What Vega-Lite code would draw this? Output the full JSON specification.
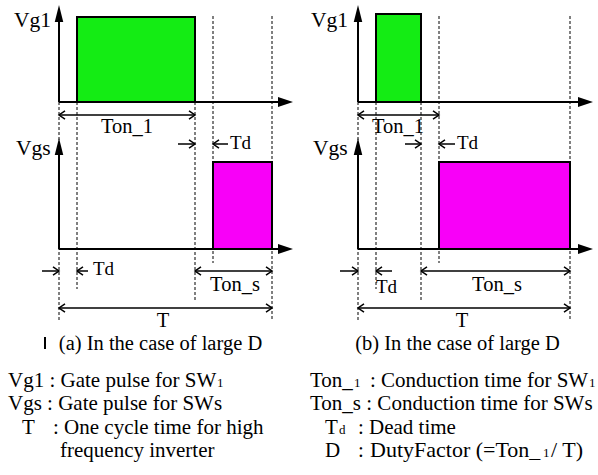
{
  "$schema": "https://vega.github.io/schema/vega-lite/v6.json",
  "width": 598,
  "height": 475,
  "autosize": {"type": "fit", "contains": "padding"},
  "padding": 0,
  "background": "white",
  "config": {"view": {"stroke": null}, "font": "Liberation Serif"},
  "datasets": {
    "dashed": [
      {"x": 59, "y": 102, "y2": 320}, {"x": 77, "y": 102, "y2": 289}, {"x": 195, "y": 102, "y2": 300},
      {"x": 213, "y": 16, "y2": 263}, {"x": 272, "y": 16, "y2": 320},
      {"x": 358, "y": 102, "y2": 320}, {"x": 376, "y": 102, "y2": 289}, {"x": 421, "y": 102, "y2": 300},
      {"x": 439, "y": 16, "y2": 263}, {"x": 570, "y": 16, "y2": 320}
    ],
    "pulses": [
      {"panel": "a", "sw": "SW1", "x": 77, "x2": 195, "y": 17, "y2": 102},
      {"panel": "a", "sw": "SWs", "x": 213, "x2": 272, "y": 162, "y2": 249},
      {"panel": "b", "sw": "SW1", "x": 376, "x2": 421, "y": 14, "y2": 102},
      {"panel": "b", "sw": "SWs", "x": 439, "x2": 570, "y": 162, "y2": 249}
    ],
    "axes": [
      {"x": 59, "x2": 59, "y": 14, "y2": 102}, {"x": 59, "x2": 280, "y": 102, "y2": 102},
      {"x": 59, "x2": 59, "y": 147, "y2": 249}, {"x": 59, "x2": 280, "y": 249, "y2": 249},
      {"x": 358, "x2": 358, "y": 14, "y2": 102}, {"x": 358, "x2": 580, "y": 102, "y2": 102},
      {"x": 358, "x2": 358, "y": 147, "y2": 249}, {"x": 358, "x2": 580, "y": 249, "y2": 249},
      {"x": 45, "x2": 45, "y": 337, "y2": 349}
    ],
    "arrowUp": [
      {"x": 59, "y": 13.5}, {"x": 59, "y": 146.5}, {"x": 358, "y": 13.5}, {"x": 358, "y": 146.5}
    ],
    "arrowRight": [
      {"x": 285.5, "y": 102}, {"x": 285.5, "y": 249}, {"x": 585.5, "y": 102}, {"x": 585.5, "y": 249}
    ],
    "dims": [
      {"x": 59, "x2": 195, "y": 115}, {"x": 178, "x2": 195, "y": 144}, {"x": 213, "x2": 228, "y": 144},
      {"x": 42, "x2": 59, "y": 271}, {"x": 77, "x2": 88, "y": 271}, {"x": 195, "x2": 272, "y": 271},
      {"x": 59, "x2": 272, "y": 308},
      {"x": 358, "x2": 439, "y": 115}, {"x": 405, "x2": 421, "y": 144}, {"x": 439, "x2": 455, "y": 144},
      {"x": 340, "x2": 358, "y": 271}, {"x": 376, "x2": 392, "y": 271}, {"x": 421, "x2": 570, "y": 271},
      {"x": 358, "x2": 570, "y": 308}
    ],
    "chevRight": [
      {"x": 195, "y": 115}, {"x": 195, "y": 144}, {"x": 59, "y": 271}, {"x": 272, "y": 271}, {"x": 272, "y": 308},
      {"x": 439, "y": 115}, {"x": 421, "y": 144}, {"x": 358, "y": 271}, {"x": 570, "y": 271}, {"x": 570, "y": 308}
    ],
    "chevLeft": [
      {"x": 59, "y": 115}, {"x": 213, "y": 144}, {"x": 77, "y": 271}, {"x": 195, "y": 271}, {"x": 59, "y": 308},
      {"x": 358, "y": 115}, {"x": 439, "y": 144}, {"x": 376, "y": 271}, {"x": 421, "y": 271}, {"x": 358, "y": 308}
    ],
    "labelsLeft": [
      {"x": 14, "y": 27, "t": "Vg1"}, {"x": 16, "y": 155, "t": "Vgs"},
      {"x": 311, "y": 27, "t": "Vg1"}, {"x": 313, "y": 155, "t": "Vgs"}
    ],
    "labelsCenter": [
      {"x": 127, "y": 133, "t": "Ton_1"}, {"x": 398, "y": 133, "t": "Ton_1"},
      {"x": 235, "y": 291, "t": "Ton_s"}, {"x": 497, "y": 291, "t": "Ton_s"},
      {"x": 163, "y": 327, "t": "T"}, {"x": 462, "y": 327, "t": "T"},
      {"x": 160.5, "y": 350, "t": "(a) In the case of large D"},
      {"x": 457.5, "y": 350, "t": "(b) In the case of large D"}
    ],
    "labelsTd": [
      {"x": 230, "y": 149, "t": "Td"}, {"x": 457, "y": 149, "t": "Td"},
      {"x": 93, "y": 275, "t": "Td"}, {"x": 376, "y": 293, "t": "Td"}
    ],
    "legend": [
      {"x": 8, "y": 387, "t": "Vg1 : Gate pulse for SW"},
      {"x": 8, "y": 410, "t": "Vgs : Gate pulse for SWs"},
      {"x": 22, "y": 434, "t": "T"},
      {"x": 53, "y": 434, "t": ": One cycle time for high"},
      {"x": 60, "y": 457, "t": "frequency inverter"},
      {"x": 310, "y": 387, "t": "Ton_"},
      {"x": 370, "y": 387, "t": ": Conduction time for SW"},
      {"x": 310, "y": 410, "t": "Ton_s : Conduction time for SWs"},
      {"x": 325, "y": 434, "t": "T"},
      {"x": 358, "y": 434, "t": ":"},
      {"x": 369, "y": 434, "t": "Dead time"},
      {"x": 325, "y": 457, "t": "D"},
      {"x": 358, "y": 457, "t": ":"}
    ],
    "legendWide": [
      {"x": 370, "y": 457, "t": "DutyFactor (=Ton_"},
      {"x": 551, "y": 457, "t": "/ T)"}
    ],
    "legendSmall": [
      {"x": 217, "y": 387, "t": "1"}, {"x": 354, "y": 387, "t": "1"}, {"x": 589, "y": 387, "t": "1"},
      {"x": 339, "y": 434, "t": "d"}, {"x": 543, "y": 457, "t": "1"}
    ]
  },
  "encoding": {
    "x": {"field": "x", "type": "quantitative", "scale": {"domain": [0, 598], "nice": false, "zero": false}, "axis": null},
    "y": {"field": "y", "type": "quantitative", "scale": {"domain": [0, 475], "nice": false, "zero": false, "reverse": true}, "axis": null}
  },
  "layer": [
    {
      "data": {"name": "dashed"},
      "mark": {"type": "rule", "color": "black", "strokeWidth": 1, "strokeDash": [3, 2]},
      "encoding": {"y2": {"field": "y2"}}
    },
    {
      "data": {"name": "pulses"},
      "mark": {"type": "rect", "stroke": "black", "strokeWidth": 2},
      "encoding": {
        "x2": {"field": "x2"},
        "y2": {"field": "y2"},
        "fill": {"field": "sw", "type": "nominal", "scale": {"domain": ["SW1", "SWs"], "range": ["#14ec14", "#f800f8"]}, "legend": null}
      }
    },
    {
      "data": {"name": "axes"},
      "mark": {"type": "rule", "color": "black", "strokeWidth": 2},
      "encoding": {"x2": {"field": "x2"}, "y2": {"field": "y2"}}
    },
    {
      "data": {"name": "dims"},
      "mark": {"type": "rule", "color": "black", "strokeWidth": 1.5},
      "encoding": {"x2": {"field": "x2"}}
    },
    {
      "data": {"name": "arrowUp"},
      "mark": {"type": "point", "shape": "M0,-1L0.5,1L-0.5,1Z", "filled": true, "color": "black", "opacity": 1, "size": 289}
    },
    {
      "data": {"name": "arrowRight"},
      "mark": {"type": "point", "shape": "M1,0L-1,-0.68L-1,0.68Z", "filled": true, "color": "black", "opacity": 1, "size": 225}
    },
    {
      "data": {"name": "chevRight"},
      "mark": {"type": "point", "shape": "M-1,-0.7L0,0L-1,0.7", "filled": false, "color": "black", "opacity": 1, "strokeWidth": 1.5, "size": 144}
    },
    {
      "data": {"name": "chevLeft"},
      "mark": {"type": "point", "shape": "M1,-0.7L0,0L1,0.7", "filled": false, "color": "black", "opacity": 1, "strokeWidth": 1.5, "size": 144}
    },
    {
      "data": {"name": "labelsLeft"},
      "mark": {"type": "text", "align": "left", "baseline": "alphabetic", "fontSize": 21.5, "color": "black"},
      "encoding": {"text": {"field": "t"}}
    },
    {
      "data": {"name": "labelsCenter"},
      "mark": {"type": "text", "align": "center", "baseline": "alphabetic", "fontSize": 20.5, "color": "black"},
      "encoding": {"text": {"field": "t"}}
    },
    {
      "data": {"name": "labelsTd"},
      "mark": {"type": "text", "align": "left", "baseline": "alphabetic", "fontSize": 19, "color": "black"},
      "encoding": {"text": {"field": "t"}}
    },
    {
      "data": {"name": "legend"},
      "mark": {"type": "text", "align": "left", "baseline": "alphabetic", "fontSize": 21, "color": "black"},
      "encoding": {"text": {"field": "t"}}
    },
    {
      "data": {"name": "legendWide"},
      "mark": {"type": "text", "align": "left", "baseline": "alphabetic", "fontSize": 22, "color": "black"},
      "encoding": {"text": {"field": "t"}}
    },
    {
      "data": {"name": "legendSmall"},
      "mark": {"type": "text", "align": "left", "baseline": "alphabetic", "fontSize": 13, "color": "black"},
      "encoding": {"text": {"field": "t"}}
    }
  ]
}
